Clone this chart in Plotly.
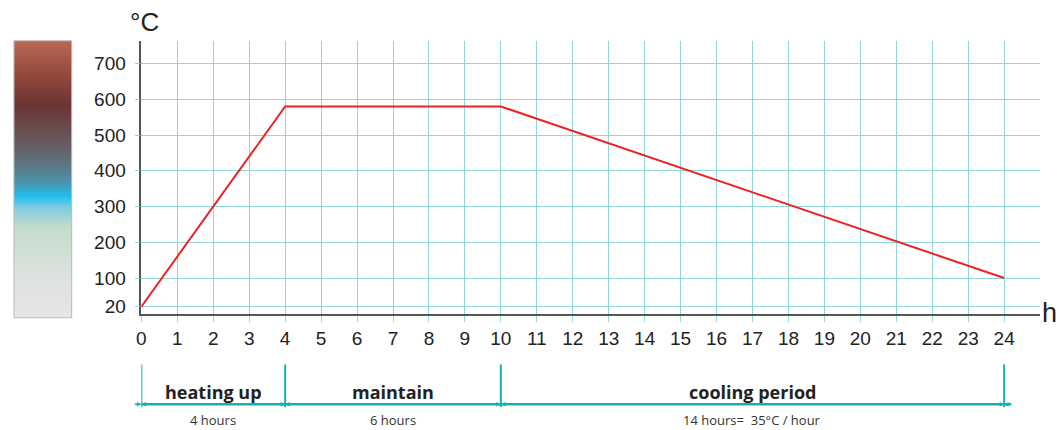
import plotly.graph_objects as go

# ---- data ----
hours = [0, 4, 10, 24]
temps = [20, 580, 580, 100]
x_ticks = list(range(0, 25))
y_ticks = [20, 100, 200, 300, 400, 500, 600, 700]
phase_bounds = [0, 4, 10, 24]
phase_names = ["heating up", "maintain", "cooling period"]
phase_notes = ["4 hours", "6 hours", "14 hours=  35°C / hour"]
gradient_stops = [0.0, 0.15, 0.33, 0.40, 0.44, 0.49, 0.56, 0.65, 0.77, 0.88, 1.0]
gradient_colors = ["#e6e6e8", "#dde2df", "#c3dccb", "#7fcbe0", "#1fc0ee", "#4d93ad",
                   "#5f7381", "#675659", "#6b3434", "#944a3e", "#bb6852"]

W, H = 1059, 430


def px(p):
    return p / W


def py(p):
    return (H - p) / H


TEAL = "#16b0b0"
GRID = "#93d8d8"
TXT = "Open Sans, Lato, sans-serif"

fig = go.Figure()

# gradient bar
n = 200
fig.add_trace(go.Heatmap(
    z=[[i / (n - 1)] for i in range(n)],
    x=[0], y=[i / (n - 1) for i in range(n)],
    colorscale=[[s, c] for s, c in zip(gradient_stops, gradient_colors)],
    showscale=False, zsmooth="best", hoverinfo="skip",
    xaxis="x2", yaxis="y2", zmin=0, zmax=1,
))

fig.add_trace(go.Scatter(
    x=hours, y=temps, mode="lines",
    line=dict(color="#ee2222", width=2), hoverinfo="skip", showlegend=False,
))

fig.update_layout(
    width=W, height=H,
    margin=dict(l=0, r=0, t=0, b=0),
    paper_bgcolor="white", plot_bgcolor="white",
    showlegend=False,
    font=dict(family="Liberation Sans, Arial, sans-serif", color="#222"),
    xaxis=dict(
        domain=[px(137), px(1040)], range=[0, 25],
        tickvals=x_ticks, ticktext=[str(v) for v in x_ticks],
        showgrid=True, gridcolor=GRID, gridwidth=1,
        ticks="outside", ticklen=6, tickcolor=GRID,
        showline=True, linecolor="#555", linewidth=1.5,
        tickfont=dict(size=19, color="#222"), zeroline=False,
        ticklabelstandoff=1,
    ),
    yaxis=dict(
        domain=[py(316), py(41)], range=[0, 764],
        tickvals=y_ticks,
        showgrid=True, gridcolor=GRID, gridwidth=1,
        ticks="outside", ticklen=5, tickcolor=GRID,
        showline=True, linecolor="#555", linewidth=1.5,
        tickfont=dict(size=19, color="#222"), zeroline=False,
        ticklabelstandoff=5,
    ),
    xaxis2=dict(domain=[px(9), px(67)], range=[-0.5, 0.5], visible=False),
    yaxis2=dict(domain=[py(320), py(41)], range=[0, 1], visible=False, anchor="x2"),
)

# border of gradient bar
fig.add_shape(type="rect", xref="paper", yref="paper",
              x0=px(9), x1=px(67), y0=py(320), y1=py(41),
              line=dict(color="#b8b8b8", width=1))

# axis unit labels
fig.add_annotation(text="°C", xref="paper", yref="paper", x=px(140), y=py(22),
                   xanchor="center", yanchor="middle",
                   showarrow=False, font=dict(size=26, color="#222"))
fig.add_annotation(text="h", xref="paper", yref="paper", x=px(1049), y=py(315),
                   xanchor="center", yanchor="middle",
                   showarrow=False, font=dict(size=27, color="#222"))

# phase markers below chart
for b in phase_bounds:
    fig.add_shape(type="line", xref="x", yref="paper", x0=b, x1=b,
                  y0=py(367), y1=py(410), line=dict(color=TEAL, width=2))
fig.add_shape(type="line", xref="x", yref="paper", x0=-0.25, x1=24.2,
              y0=py(407), y1=py(407), line=dict(color=TEAL, width=2.5))
for b in phase_bounds:
    for side in (-1, 1):
        fig.add_annotation(x=b, y=py(407), xref="x", yref="paper",
                           ax=side * 8, ay=0, showarrow=True, text="",
                           arrowhead=2, arrowsize=0.6, arrowwidth=1.5,
                           arrowcolor=TEAL)

for i, (name, note) in enumerate(zip(phase_names, phase_notes)):
    mid = (phase_bounds[i] + phase_bounds[i + 1]) / 2
    fig.add_annotation(text="<b>" + name + "</b>", x=mid, y=py(395), xref="x", yref="paper",
                       xanchor="center", yanchor="middle", showarrow=False,
                       font=dict(family=TXT, size=18, color="#222"))
    fig.add_annotation(text=note, x=mid, y=py(423), xref="x", yref="paper",
                       xanchor="center", yanchor="middle", showarrow=False,
                       font=dict(family=TXT, size=13, color="#333"))

fig.write_html(
    "out.html",
    config={"displayModeBar": False},
    post_script="document.body.style.margin='0';document.body.style.overflow='hidden';",
)
